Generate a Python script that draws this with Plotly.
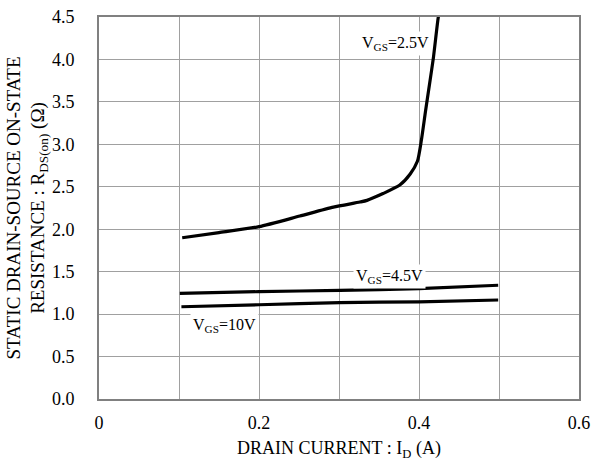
import plotly.graph_objects as go

# Data
x_25 = [0.104, 0.15, 0.2, 0.251, 0.293, 0.326, 0.335, 0.355, 0.376, 0.389, 0.398, 0.403, 0.408, 0.413, 0.418, 0.424, 0.426]
y_25 = [1.90, 1.96, 2.03, 2.155, 2.26, 2.32, 2.34, 2.42, 2.52, 2.65, 2.80, 3.05, 3.38, 3.70, 4.02, 4.49, 4.58]

x_45 = [0.101, 0.2, 0.301, 0.4, 0.499]
y_45 = [1.245, 1.265, 1.28, 1.30, 1.34]

x_10 = [0.103, 0.2, 0.301, 0.4, 0.499]
y_10 = [1.087, 1.11, 1.135, 1.145, 1.166]

x_ticks = [0, 0.2, 0.4, 0.6]
x_ticklabels = ["0", "0.2", "0.4", "0.6"]

labels = [
    ("V<sub>GS</sub>=2.5V", 0.371, 4.19),
    ("V<sub>GS</sub>=4.5V", 0.3625, 1.44),
    ("V<sub>GS</sub>=10V", 0.157, 0.87),
]

FONT = "Liberation Serif, Times New Roman, serif"

fig = go.Figure()
for xs, ys in [(x_25, y_25), (x_45, y_45), (x_10, y_10)]:
    fig.add_trace(go.Scatter(x=xs, y=ys, mode="lines",
                             line=dict(color="black", width=3.2, shape="spline", smoothing=0.6),
                             showlegend=False, hoverinfo="skip"))

for text, ax, ay in labels:
    fig.add_annotation(x=ax, y=ay, text=text, showarrow=False,
                       font=dict(family=FONT, size=16, color="black"),
                       bgcolor="white", borderpad=2)

fig.update_layout(
    width=592, height=463,
    margin=dict(l=99, r=13, t=17, b=64),
    paper_bgcolor="white", plot_bgcolor="white",
    font=dict(family=FONT, color="black"),
)

fig.update_xaxes(
    range=[0, 0.6], tickvals=x_ticks, ticktext=x_ticklabels,
    showgrid=True, gridcolor="#a0a0a0", gridwidth=1,
    minor=dict(dtick=0.1, tick0=0, showgrid=True, gridcolor="#a0a0a0", gridwidth=1),
    showline=True, linecolor="#808080", linewidth=2, mirror=True,
    zeroline=False, ticks="", ticklabelstandoff=6, automargin=False,
    tickfont=dict(family=FONT, size=18, color="black"),
    title=dict(text="DRAIN CURRENT : I<sub>D</sub> (A)",
               font=dict(family=FONT, size=18, color="black"), standoff=10),
)
fig.update_yaxes(
    range=[0, 4.5], dtick=0.5, tick0=0, tickformat=".1f",
    showgrid=True, gridcolor="#a0a0a0", gridwidth=1,
    showline=True, linecolor="#808080", linewidth=2, mirror=True,
    zeroline=False, ticks="", ticklabelstandoff=19, automargin=False,
    tickfont=dict(family=FONT, size=18, color="black"),
    title=dict(text="STATIC DRAIN-SOURCE ON-STATE<br>RESISTANCE : R<sub>DS(on)</sub> (Ω)",
               font=dict(family=FONT, size=19, color="black"), standoff=2),
)

fig.write_html("out.html")
